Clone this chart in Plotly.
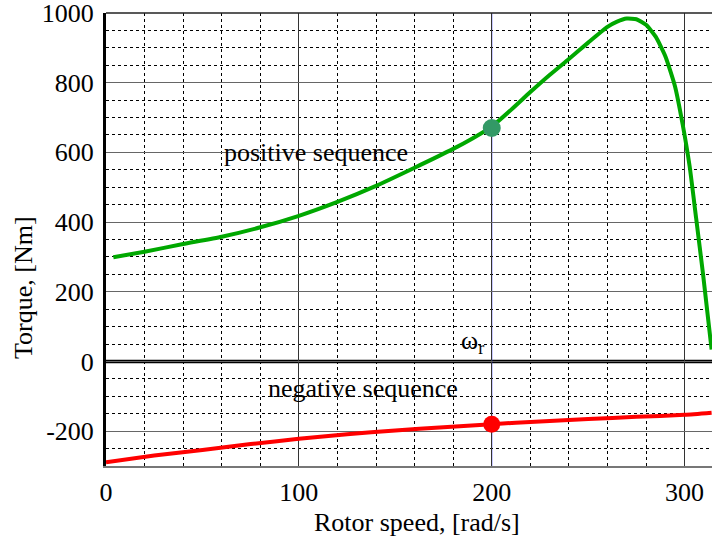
import plotly.graph_objects as go

# Positive sequence torque (green)
pos_speed = [3.8, 20, 40, 60, 80, 100, 120, 140, 160, 180, 190, 200, 210, 220, 230, 240, 250, 260, 265, 270, 275, 280, 285, 290, 295, 299, 302.6, 306, 309.5, 314]
pos_torque = [299, 315, 337, 358, 385, 418, 458, 504, 556, 610, 640, 674, 722, 773, 822, 868, 915, 960, 975, 984, 982, 966, 932, 876, 790, 680, 560, 410, 253, 34]

# Negative sequence torque (red)
neg_speed = [0, 25, 50, 75, 100, 125, 150, 175, 200, 225, 250, 275, 300, 314]
neg_torque = [-289, -270, -254, -237, -222, -209, -198, -189, -180, -172, -165, -159, -153, -147]

# Operating point
op_speed = [200]
op_pos = [670]
op_neg = [-180]

x_ticks = [0, 100, 200, 300]
x_labels = ["0", "100", "200", "300"]
y_ticks = [-200, 0, 200, 400, 600, 800, 1000]
y_labels = ["-200", "0", "200", "400", "600", "800", "1000"]

FONT = "Liberation Serif"
FS = 26

fig = go.Figure()
fig.add_trace(go.Scatter(x=pos_speed, y=pos_torque, mode="lines",
                         line=dict(color="#00a800", width=4, shape="spline", smoothing=0.5),
                         showlegend=False, hoverinfo="skip"))
fig.add_trace(go.Scatter(x=neg_speed, y=neg_torque, mode="lines",
                         line=dict(color="#ff0000", width=4, shape="spline", smoothing=0.5),
                         showlegend=False, hoverinfo="skip"))
fig.add_trace(go.Scatter(x=op_speed, y=op_pos, mode="markers",
                         marker=dict(color="#339966", size=18), showlegend=False))
fig.add_trace(go.Scatter(x=op_speed, y=op_neg, mode="markers",
                         marker=dict(color="#ff0000", size=17), showlegend=False))

# zero line and rotor speed marker line
fig.add_shape(type="line", xref="paper", x0=0, x1=1, yref="y", y0=0, y1=0,
              line=dict(color="black", width=3.5), layer="below")
fig.add_shape(type="line", xref="x", x0=op_speed[0], x1=op_speed[0], yref="paper", y0=0, y1=1,
              line=dict(color="#2020ff", width=1), layer="below")

fig.add_annotation(x=60, y=600, text="positive sequence", showarrow=False,
                   xref="x", yref="y", xanchor="left", font=dict(family=FONT, size=FS, color="black"))
fig.add_annotation(x=83, y=-77, text="negative sequence", showarrow=False,
                   xref="x", yref="y", xanchor="left", font=dict(family=FONT, size=FS, color="black"))
fig.add_annotation(x=197, y=55, text="ω<sub>r</sub>", showarrow=False,
                   xref="x", yref="y", xanchor="right", font=dict(family=FONT, size=FS, color="black"))

fig.add_annotation(x=417, y=522, xref="paper", yref="paper", text="Rotor speed, [rad/s]", showarrow=False,
                   font=dict(family=FONT, size=FS, color="black"))
fig.add_annotation(x=23, y=288, xref="paper", yref="paper", text="Torque, [Nm]", showarrow=False,
                   textangle=-90, font=dict(family=FONT, size=FS, color="black"))

fig.update_layout(
    width=712, height=542,
    margin=dict(l=106, r=0, t=13, b=76),
    plot_bgcolor="white", paper_bgcolor="white",
    font=dict(family=FONT, size=FS, color="black"),
    xaxis=dict(range=[0, 314.2], tickmode="array", tickvals=x_ticks, ticktext=x_labels,
               tickfont_family=FONT, tickfont_size=FS, tickfont_color="black",
               showgrid=True, gridcolor="#333333", gridwidth=1,
               minor=dict(dtick=20, showgrid=True, gridcolor="black", griddash="dot", gridwidth=1),
               showline=True, linecolor="#777777", linewidth=2, mirror=False,
               zeroline=False, ticks="outside", ticklen=2, tickcolor="rgba(0,0,0,0)",
               ticklabeloverflow="allow"),
    yaxis=dict(range=[-300, 1000], tickmode="array", tickvals=y_ticks, ticktext=y_labels,
               tickfont_family=FONT, tickfont_size=FS, tickfont_color="black",
               showgrid=True, gridcolor="#666666", gridwidth=1,
               minor=dict(dtick=50, showgrid=True, gridcolor="black", griddash="dot", gridwidth=1),
               showline=True, linecolor="black", linewidth=3, mirror=False,
               zeroline=False, ticks="outside", ticklen=4, tickcolor="rgba(0,0,0,0)",
               ticklabeloverflow="allow"),
)
fig.add_shape(type="line", xref="paper", x0=0, x1=1, yref="paper", y0=1, y1=1,
              line=dict(color="#222222", width=1.5))

# convert pixel-based annotations to paper coords
W, H = 712, 542
l, r, t, b = 106, 0, 13, 76
pw, ph = W - l - r, H - t - b
for ann in fig.layout.annotations:
    if ann.xref == "paper" and ann.x > 1:
        ann.x = (ann.x - l) / pw
        ann.y = 1 - (ann.y - t) / ph
        ann.xanchor = "center"
        ann.yanchor = "middle"

fig.write_html("out.html")
